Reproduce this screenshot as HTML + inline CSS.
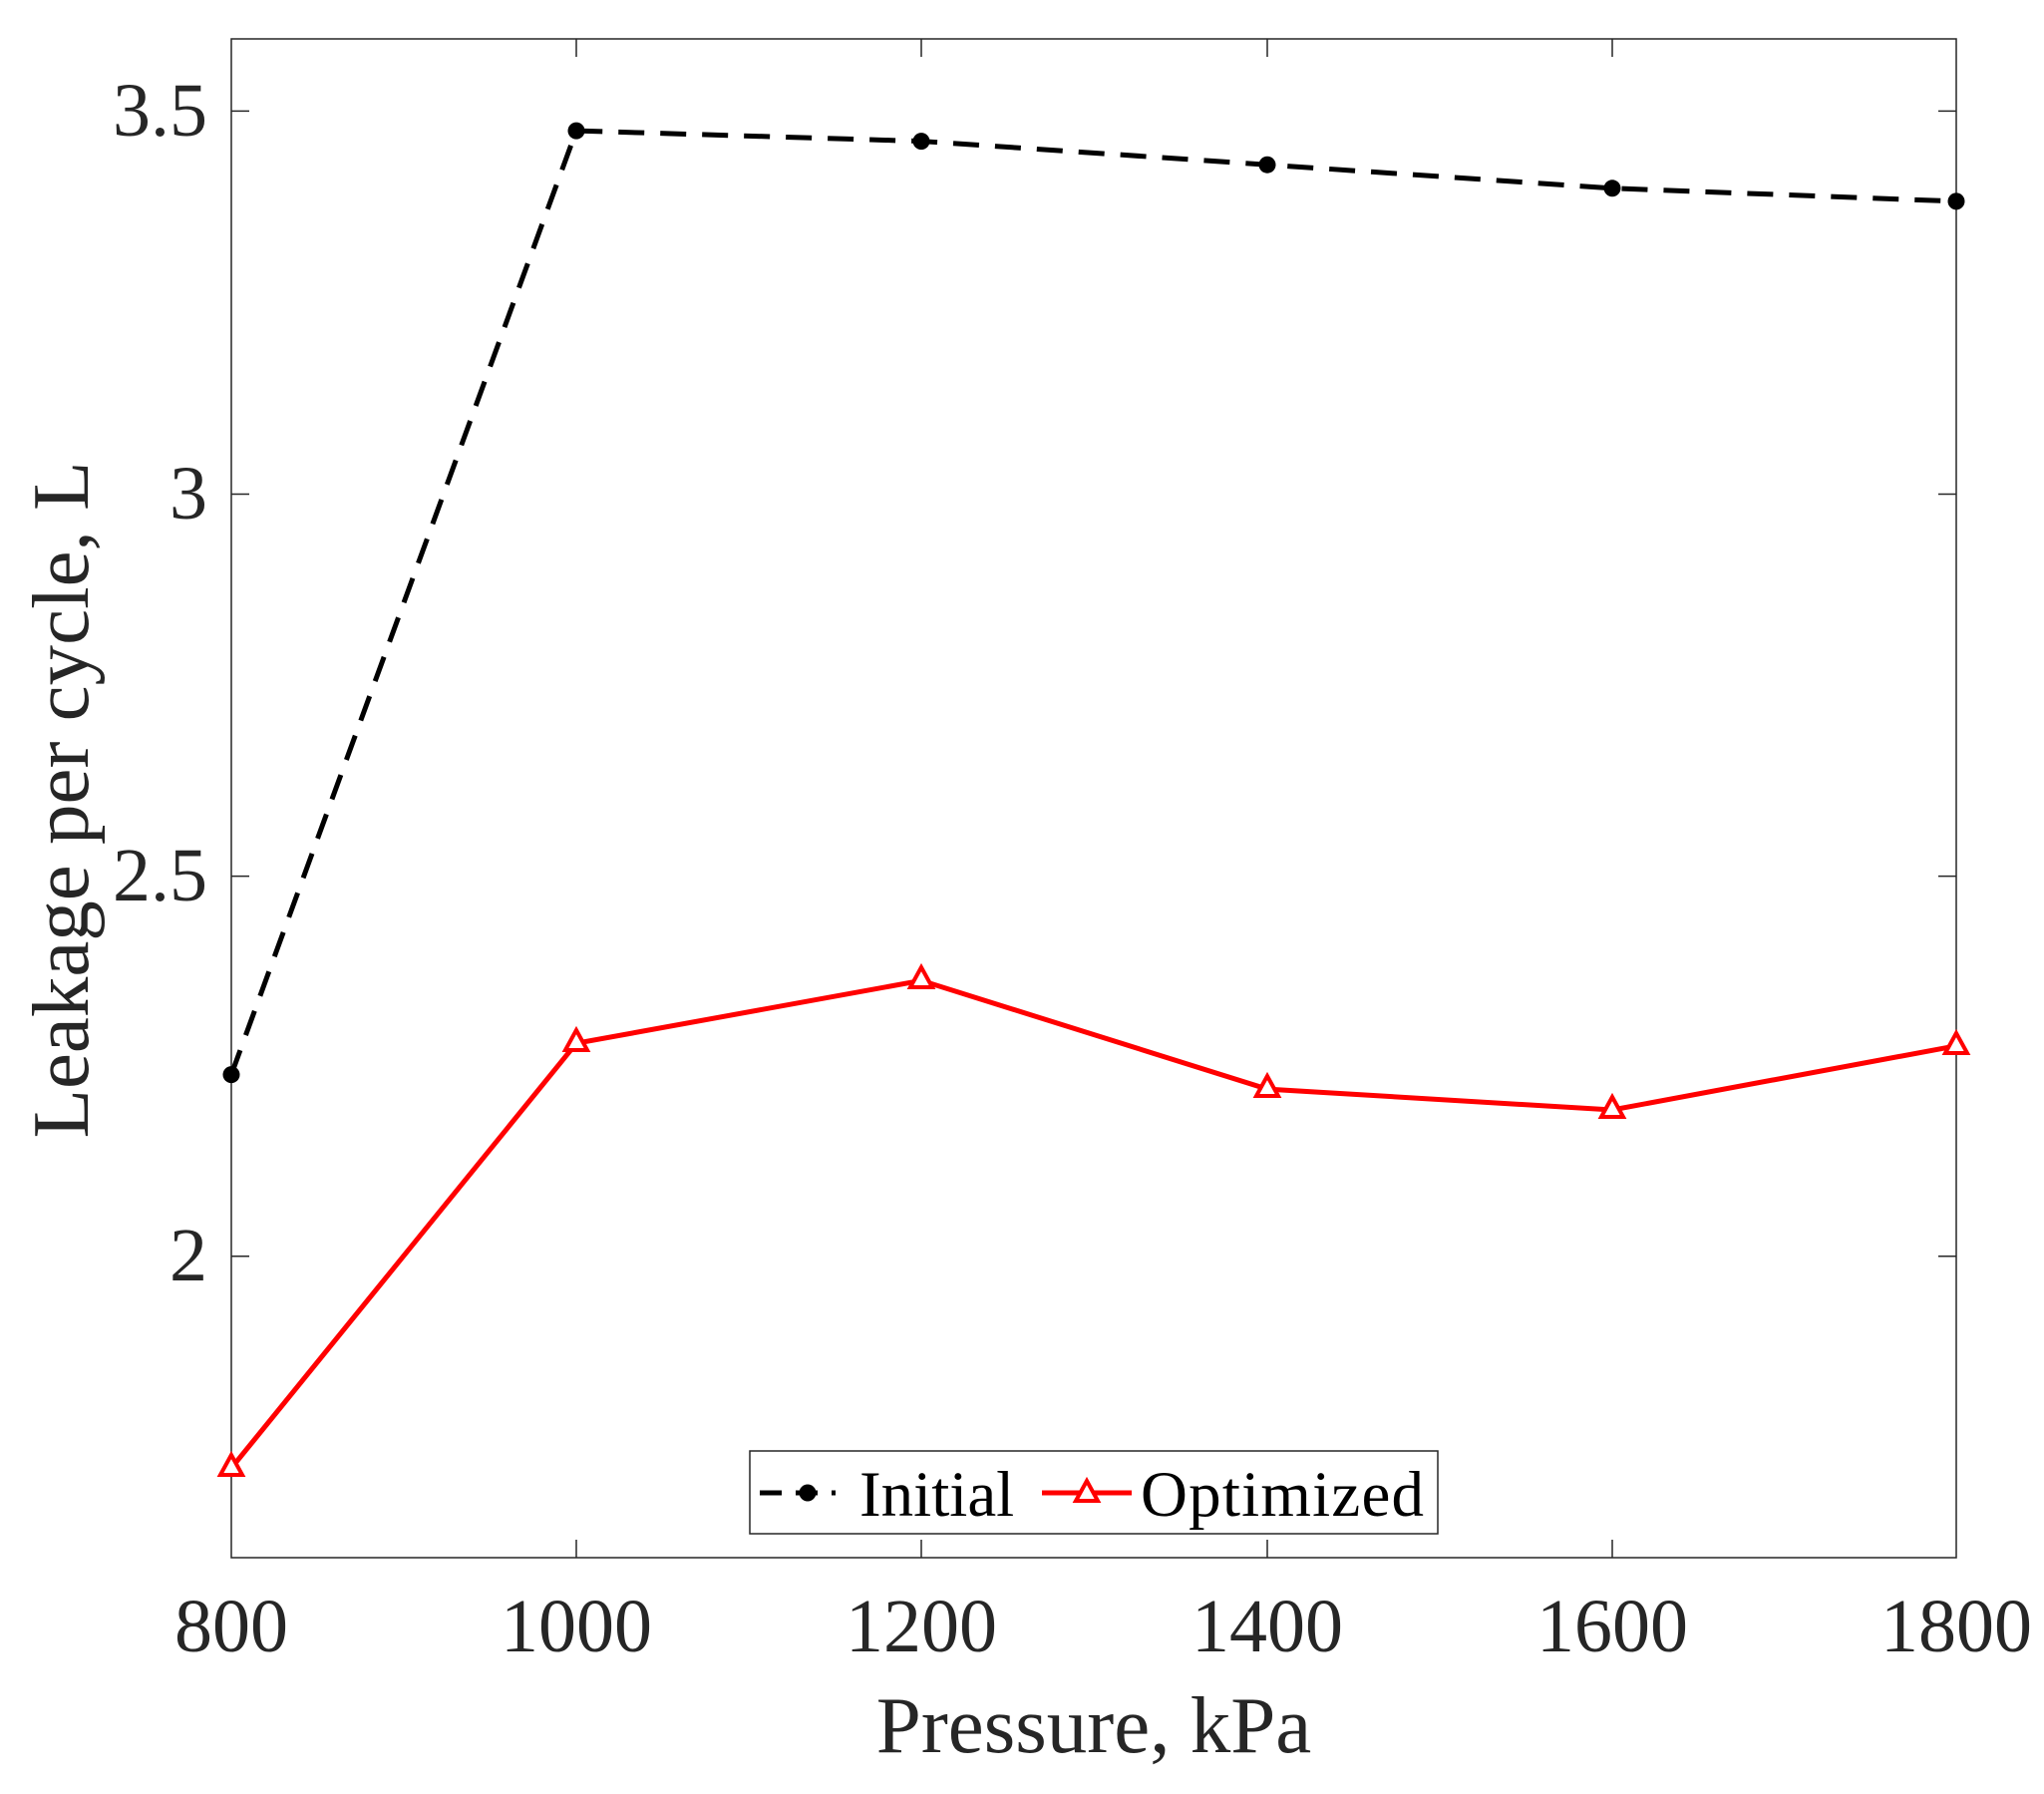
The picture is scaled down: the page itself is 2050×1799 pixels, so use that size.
<!DOCTYPE html>
<html><head><style>body{margin:0;background:#fff}</style></head><body>
<svg width="2050" height="1794" xmlns="http://www.w3.org/2000/svg" font-family="Liberation Serif, serif" fill="#262626">
<rect width="2050" height="1794" fill="#fff"/>
<g stroke="#262626" stroke-width="1.5" fill="none">
<rect x="232" y="39" width="1730" height="1523"/>
<path d="M578 1562v-18M924 1562v-18M1271 1562v-18M1617 1562v-18M578 39v18M924 39v18M1271 39v18M1617 39v18"/>
<path d="M232 111.4h18M232 495.5h18M232 878.6h18M232 1259.7h18M1962 111.4h-18M1962 495.5h-18M1962 878.6h-18M1962 1259.7h-18"/>
</g>
<polyline points="232,1077.6 578,131.1 924,141.6 1271,165.2 1617,188.8 1962,201.9" fill="none" stroke="#000" stroke-width="5" stroke-dasharray="26,16"/>
<g fill="#000"><circle cx="232" cy="1077.6" r="8.5"/><circle cx="578" cy="131.1" r="8.5"/><circle cx="924" cy="141.6" r="8.5"/><circle cx="1271" cy="165.2" r="8.5"/><circle cx="1617" cy="188.8" r="8.5"/><circle cx="1962" cy="201.9" r="8.5"/></g>
<polyline points="232,1472.2 578,1046.2 924,983.3 1271,1092.1 1617,1113 1962,1048.8" fill="none" stroke="#f00" stroke-width="5"/>
<g fill="#fff" stroke="#f00" stroke-width="4">
<path d="M232 1459l-11 20h22z"/><path d="M578 1033l-11 20h22z"/><path d="M924 970l-11 20h22z"/><path d="M1271 1079l-11 20h22z"/><path d="M1617 1100l-11 20h22z"/><path d="M1962 1036l-11 20h22z"/>
</g>
<g font-size="76" text-anchor="end">
<text x="208" y="136">3.5</text><text x="208" y="520">3</text><text x="208" y="903">2.5</text><text x="208" y="1284">2</text>
</g>
<g font-size="76" text-anchor="middle">
<text x="232" y="1656">800</text><text x="578" y="1656">1000</text><text x="924" y="1656">1200</text><text x="1271" y="1656">1400</text><text x="1617" y="1656">1600</text><text x="1962" y="1656">1800</text>
<text x="1097" y="1757" font-size="81">Pressure, kPa</text>
<text transform="translate(88,802) rotate(-90)" font-size="81">Leakage per cycle, L</text>
</g>
<rect x="752" y="1455" width="690" height="83" fill="#fff" stroke="#262626" stroke-width="1.5"/>
<line x1="762" y1="1497" x2="838" y2="1497" stroke="#000" stroke-width="5" stroke-dasharray="22,14"/>
<circle cx="810" cy="1497" r="8.5" fill="#000"/>
<line x1="1045" y1="1497" x2="1135" y2="1497" stroke="#f00" stroke-width="5"/>
<path d="M1090 1485l-11 20h22z" fill="#fff" stroke="#f00" stroke-width="4"/>
<g font-size="65" fill="#000"><text x="862" y="1520">Initial</text><text x="1144" y="1520" textLength="284">Optimized</text></g>
</svg>
</body></html>
